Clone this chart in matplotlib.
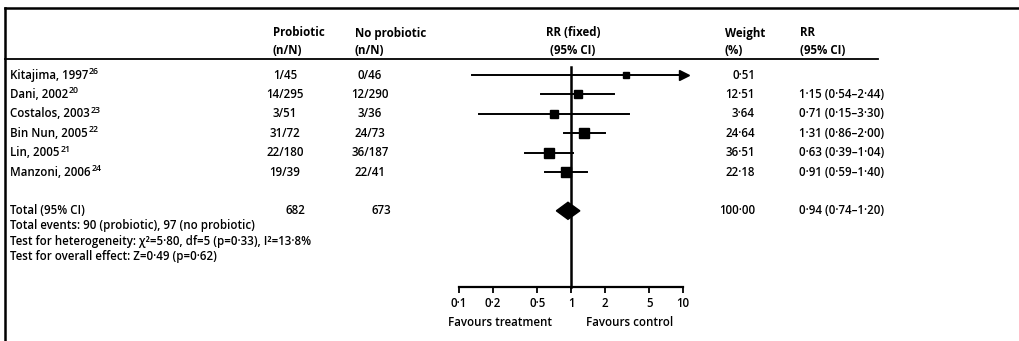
import matplotlib
matplotlib.use('Agg')
import matplotlib.pyplot as plt
import matplotlib.transforms as mtransforms
import numpy as np

plt.rcParams['font.family'] = ['Open Sans', 'DejaVu Sans']

# data
studies = ['Kitajima, 1997', 'Dani, 2002', 'Costalos, 2003', 'Bin Nun, 2005', 'Lin, 2005', 'Manzoni, 2006']
refs = ['26', '20', '23', '22', '21', '24']
probiotic = ['1/45', '14/295', '3/51', '31/72', '22/180', '19/39']
no_probiotic = ['0/46', '12/290', '3/36', '24/73', '36/187', '22/41']
rr = [3.07, 1.15, 0.71, 1.31, 0.63, 0.91]
rr_lo = [0.13, 0.54, 0.15, 0.86, 0.39, 0.59]
rr_hi = [73.0, 2.44, 3.30, 2.00, 1.04, 1.40]
weight = [0.51, 12.51, 3.64, 24.64, 36.51, 22.18]
show_rr = [False, True, True, True, True, True]

total_n = ['682', '673']
total_rr, total_lo, total_hi = 0.94, 0.74, 1.20
total_weight = 100.00

ticks = [0.1, 0.2, 0.5, 1, 2, 5, 10]
tick_labels = ['0·1', '0·2', '0·5', '1', '2', '5', '10']

footer = ['Total events: 90 (probiotic), 97 (no probiotic)',
          'Test for heterogeneity: χ²=5·80, df=5 (p=0·33), I²=13·8%',
          'Test for overall effect: Z=0·49 (p=0·62)']


def dot(v, fmt='{:.2f}'):
    return fmt.format(v).replace('.', '·')


FS = 8.3
BODY = 'semibold'
W, H = 1019, 341
fig = plt.figure(figsize=(W / 100, H / 100), dpi=100)

ax = fig.add_axes([0, 0, 1, 1])
ax.set_xlim(0, W)
ax.set_ylim(H, 0)
ax.axis('off')

# forest panel, rows are 0..5, total row at 7
x0, x1 = 459, 683
ytop, ybot = 59, 287
row0, rstep = 75, 19.4
axf = fig.add_axes([x0 / W, 1 - ybot / H, (x1 - x0) / W, (ybot - ytop) / H])
axf.set_xscale('log')
axf.set_xlim(0.1, 10)
axf.set_ylim((ybot - row0) / rstep, (ytop - row0) / rstep)
axf.patch.set_alpha(0)
for s in ['top', 'right', 'left']:
    axf.spines[s].set_visible(False)
axf.spines['bottom'].set_linewidth(1.6)
axf.set_yticks([])
axf.set_xticks(ticks)
axf.set_xticklabels(tick_labels, fontsize=FS, fontweight=BODY)
axf.xaxis.set_minor_locator(matplotlib.ticker.NullLocator())
axf.tick_params(axis='x', direction='out', length=4, width=1.3, pad=3)

# frame
ax.plot([5, 5], [8, H], color='black', lw=1.8)
ax.plot([5, W], [8, 8], color='black', lw=1.8)
ax.plot([5, 878], [59, 59], color='black', lw=1.3)

# headers
hb = dict(fontsize=FS, fontweight='bold', va='center')
ax.text(273, 33, 'Probiotic', **hb)
ax.text(273, 50, '(n/N)', **hb)
ax.text(355, 33, 'No probiotic', **hb)
ax.text(355, 50, '(n/N)', **hb)
ax.text(573, 33, 'RR (fixed)', ha='center', **hb)
ax.text(573, 50, '(95% CI)', ha='center', **hb)
ax.text(725, 33, 'Weight', **hb)
ax.text(725, 50, '(%)', **hb)
ax.text(800, 33, 'RR', **hb)
ax.text(800, 50, '(95% CI)', **hb)

trans = mtransforms.blended_transform_factory(ax.transData, axf.transData)
tk = dict(fontsize=FS, fontweight=BODY, va='center', transform=trans, clip_on=False)

for i in range(len(studies)):
    t = ax.text(10, i, studies[i], **tk)
    ax.annotate(refs[i], xy=(1, 0.5), xycoords=t, xytext=(0.5, 2.5), textcoords='offset points',
                fontsize=6.3, fontweight=BODY, va='center', ha='left')
    ax.text(285, i, probiotic[i], ha='center', **tk)
    ax.text(370, i, no_probiotic[i], ha='center', **tk)
    ax.text(755, i, dot(weight[i]), ha='right', **tk)
    if show_rr[i]:
        ax.text(799, i, dot(rr[i]) + ' (' + dot(rr_lo[i]) + '–' + dot(rr_hi[i]) + ')', **tk)

ti = 7
ax.text(10, ti, 'Total (95% CI)', **tk)
ax.text(295, ti, total_n[0], ha='center', **tk)
ax.text(381, ti, total_n[1], ha='center', **tk)
ax.text(755, ti, dot(total_weight), ha='right', **tk)
ax.text(799, ti, dot(total_rr) + ' (' + dot(total_lo) + '–' + dot(total_hi) + ')', **tk)
for k, line in enumerate(footer):
    ax.text(10, ti + 0.78 * (k + 1), line, **tk)

# line of no effect
axf.plot([1, 1], [-0.4, axf.get_ylim()[0]], color='black', lw=1.8, clip_on=False)

# study estimates
for i in range(len(studies)):
    hi = min(rr_hi[i], 10)
    axf.plot([rr_lo[i], hi], [i, i], color='black', lw=1.4, clip_on=False)
    if rr_hi[i] > 10:
        axf.plot([10.3], [i], marker='>', color='black', markersize=7, clip_on=False)
    side = 5.5 + 0.9 * np.sqrt(weight[i])
    axf.plot([rr[i]], [i], marker='s', color='black', markersize=side * 0.72, clip_on=False)

# pooled diamond
h = 0.44
axf.fill([total_lo, total_rr, total_hi, total_rr], [ti, ti - h, ti, ti + h], color='black', clip_on=False)

ax.text(500, 322, 'Favours treatment', ha='center', va='center', fontsize=FS, fontweight=BODY)
ax.text(630, 322, 'Favours control', ha='center', va='center', fontsize=FS, fontweight=BODY)

fig.savefig('out.png', dpi=100)
